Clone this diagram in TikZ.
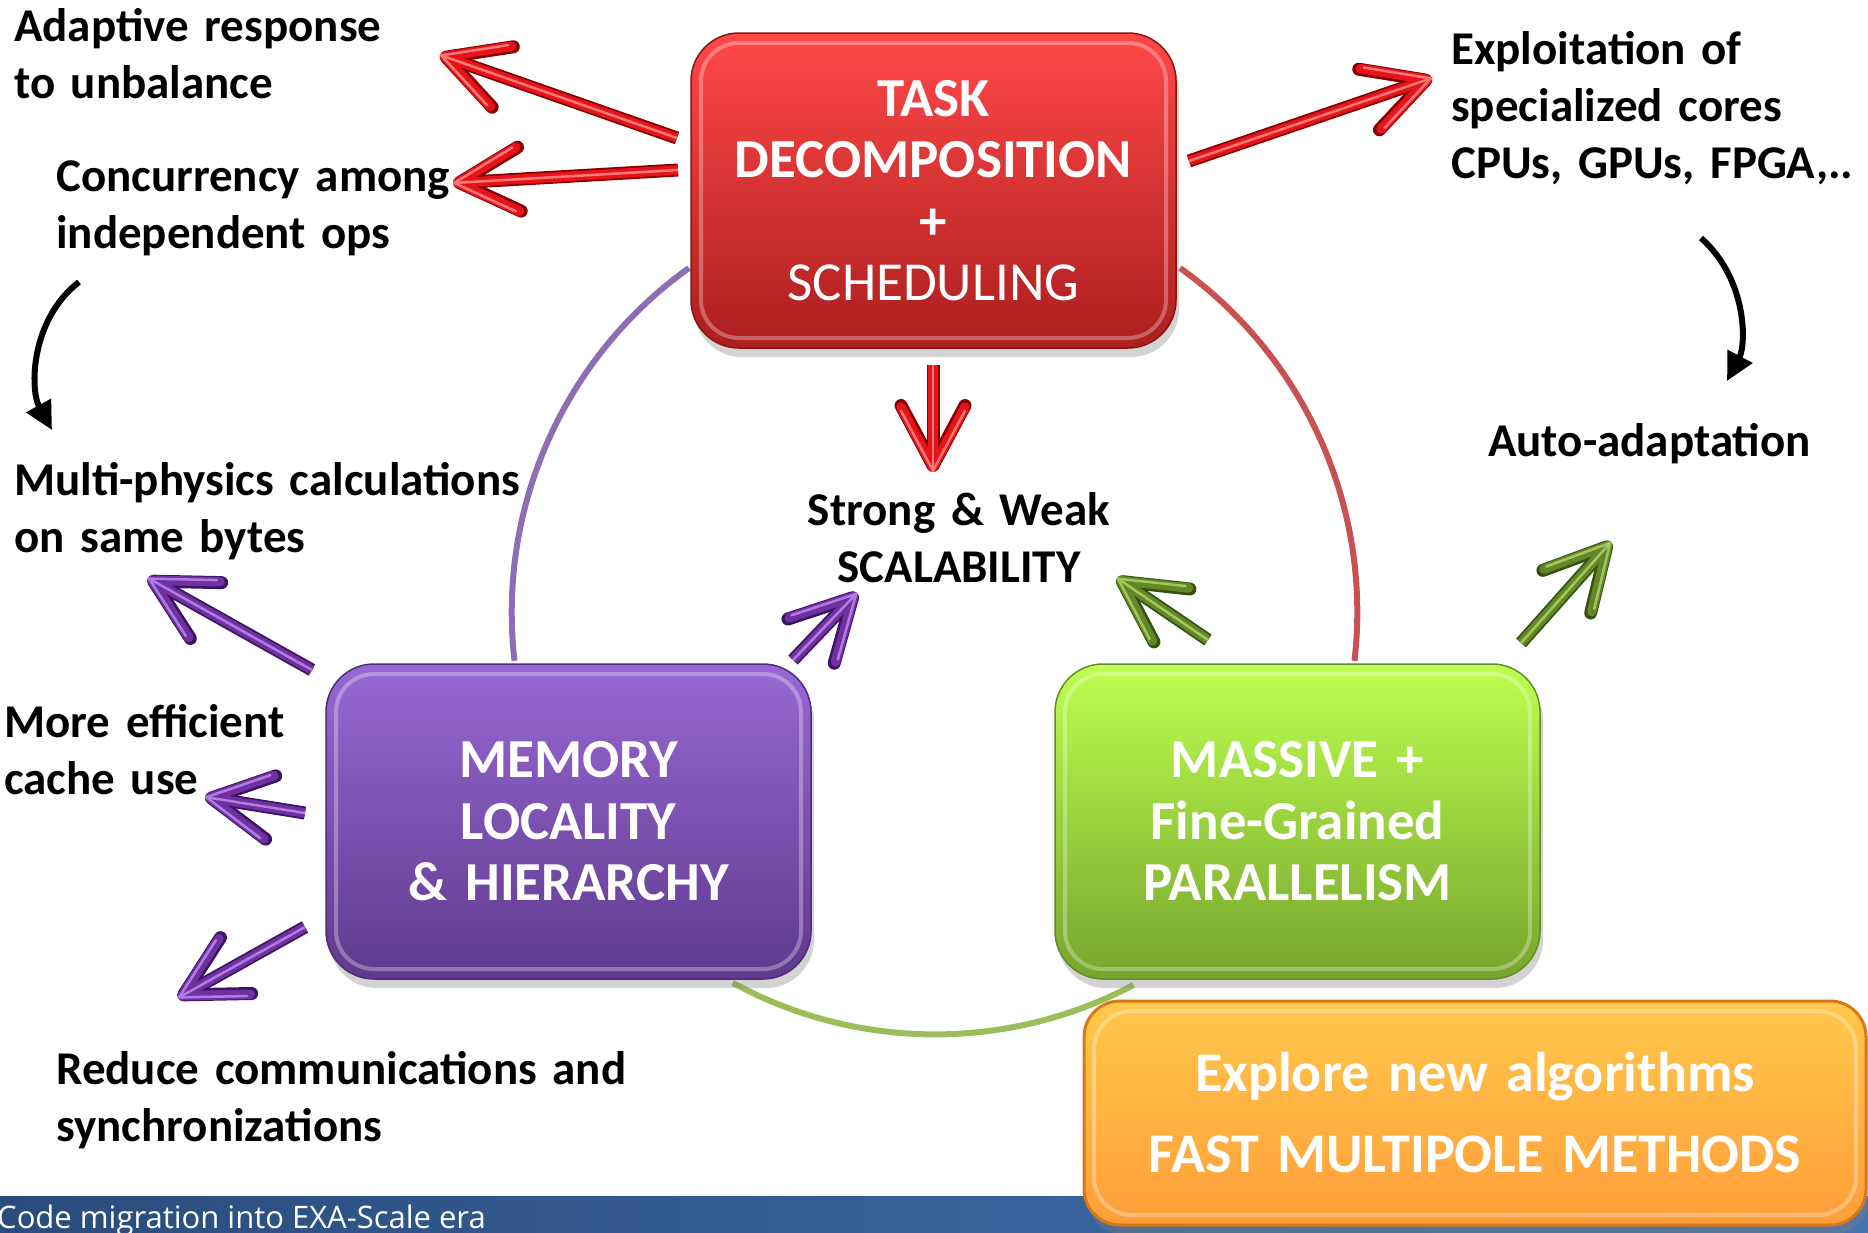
\documentclass[tikz,border=0pt]{standalone}
\usepackage{fontspec}
\setmainfont{Carlito}
\newfontfamily\bandfont{Open Sans}
\usetikzlibrary{arrows.meta,shadows,calc}
\definecolor{redA}{RGB}{230,20,26}
\definecolor{redD}{RGB}{135,0,0}
\definecolor{redL}{RGB}{255,120,120}
\definecolor{purA}{RGB}{112,48,160}
\definecolor{purD}{RGB}{60,18,98}
\definecolor{purL}{RGB}{175,125,225}
\definecolor{grnA}{RGB}{98,134,40}
\definecolor{grnD}{RGB}{54,80,16}
\definecolor{grnL}{RGB}{160,200,90}
\definecolor{arcP}{RGB}{140,110,180}
\definecolor{arcR}{RGB}{200,82,82}
\definecolor{arcG}{RGB}{155,190,90}
\definecolor{bandL}{RGB}{42,76,124}
\definecolor{bandR}{RGB}{68,116,178}
\begin{document}
\begin{tikzpicture}[x=1pt,y=-1pt]
\tikzset{
  fat/.style={line width=9.5pt, -{Straight Barb[length=60pt,width=64pt,round]}},
  redarr/.style={fat, draw=redA, preaction={draw=redD, line width=13pt}, postaction={draw=redL, line width=2.5pt}},
  purarr/.style={fat, draw=purA, preaction={draw=purD, line width=13pt}, postaction={draw=purL, line width=2.5pt}},
  grnarr/.style={fat, draw=grnA, preaction={draw=grnD, line width=13pt}, postaction={draw=grnL, line width=2.5pt}},
  blk/.style={line width=6pt, -{Triangle[length=28pt,width=27pt]}},
  ring/.style={line width=6pt},
  lbl/.style={font=\fontsize{47}{57}\selectfont\bfseries, text width=600pt, align=left, inner sep=0pt, anchor=base west},
  boxstyle/.style={rounded corners=48pt, minimum width=485pt, minimum height=315pt, text width=470pt,
    align=center, inner sep=0pt, text=white, line width=1.5pt,
    font=\fontsize{55}{61.5}\selectfont\bfseries,
    drop shadow={shadow xshift=3pt, shadow yshift=-9pt, opacity=0.35},
    path picture={\draw[white, opacity=0.3, line width=4pt, rounded corners=38pt]
      ($(path picture bounding box.north west)+(10,10)$) rectangle
      ($(path picture bounding box.south east)+(-10,-10)$);}},
}
\useasboundingbox (0,0) rectangle (1868,1232);
% footer band
\fill[left color=bandL, right color=bandR] (0,1196) rectangle (1868,1232);
\node[font=\bandfont\fontsize{31}{31}\selectfont, text=white, anchor=base west, inner sep=0pt] (band) at (-3,1228) {Code migration into EXA-Scale era};
% ring arcs
\coordinate (ctr) at (934.6,612.3);
\coordinate (pS) at (689,268);
\coordinate (rS) at (1180,268);
\coordinate (gS) at (732.7,982.8);
\draw[ring, draw=arcP] (pS) arc[start angle=234.5, end angle=173.4, radius=422.8];
\draw[ring, draw=arcR] (rS) arc[start angle=305.5, end angle=366.6, radius=422.8];
\draw[ring, draw=arcG] (gS) arc[start angle=118.6, end angle=62, radius=422.8];
% boxes
\node[boxstyle, top color={rgb,255:red,255;green,72;blue,72}, bottom color={rgb,255:red,172;green,30;blue,30}, draw={rgb,255:red,140;green,20;blue,20}]
  (task) at (933.5,190.5) {TASK\\DECOMPOSITION\\+\\\mdseries SCHEDULING};
\node[boxstyle, top color={rgb,255:red,152;green,104;blue,212}, bottom color={rgb,255:red,95;green,58;blue,140}, draw={rgb,255:red,80;green,45;blue,120}]
  (mem) at (568.5,821.5) {MEMORY\\LOCALITY\\\& HIERARCHY};
\node[boxstyle, top color={rgb,255:red,190;green,255;blue,80}, bottom color={rgb,255:red,118;green,165;blue,45}, draw={rgb,255:red,100;green,140;blue,40}]
  (par) at (1297.5,821.5) {MASSIVE +\\Fine-Grained\\PARALLELISM};
\node[boxstyle, rounded corners=36pt, minimum width=782pt, minimum height=224pt, text width=760pt,
  line width=3pt, font=\fontsize{56}{81}\selectfont\bfseries,
  top color={rgb,255:red,255;green,200;blue,75}, bottom color={rgb,255:red,255;green,158;blue,58}, draw={rgb,255:red,215;green,120;blue,20}]
  (fmm) at (1475,1113) {Explore new algorithms\\FAST MULTIPOLE METHODS};
% red arrows
\coordinate (a1s) at (677,138); \coordinate (a1e) at (440,55);
\coordinate (a2s) at (678,170); \coordinate (a2e) at (453,183);
\coordinate (a3s) at (1189,161); \coordinate (a3e) at (1432,78);
\coordinate (a4s) at (933,365); \coordinate (a4e) at (933,472);
\draw[redarr] (a1s) -- (a1e);
\draw[redarr] (a2s) -- (a2e);
\draw[redarr] (a3s) -- (a3e);
\draw[redarr] (a4s) -- (a4e);
% purple arrows
\coordinate (a5s) at (312,670); \coordinate (a5e) at (148,578);
\coordinate (a6s) at (793,660); \coordinate (a6e) at (857,593);
\coordinate (a7s) at (305,813); \coordinate (a7e) at (205,797);
\coordinate (a8s) at (305,927); \coordinate (a8e) at (178,998);
\draw[purarr] (a5s) -- (a5e);
\draw[purarr] (a6s) -- (a6e);
\draw[purarr] (a7s) -- (a7e);
\draw[purarr] (a8s) -- (a8e);
% green arrows
\coordinate (a9s) at (1208,640); \coordinate (a9e) at (1117,578);
\coordinate (a10s) at (1521,643); \coordinate (a10e) at (1611,542);
\draw[grnarr] (a9s) -- (a9e);
\draw[grnarr] (a10s) -- (a10e);
% labels
\node[lbl] (adapt) at (14,41) {Adaptive response\\to unbalance};
\node[lbl] (conc) at (56,191) {Concurrency among\\independent ops};
\node[lbl] (multi) at (14,495) {Multi-physics calculations\\on same bytes};
\node[lbl] (cache) at (4,737) {More efficient\\cache use};
\node[lbl] (reduce) at (56,1084) {Reduce communications and\\synchronizations};
\node[lbl, text width=410pt] (exploit) at (1451,64) {Exploitation of\\specialized cores\\CPUs, GPUs, FPGA,..};
\node[lbl, text width=370pt] (auto) at (1488,456) {Auto-adaptation};
\node[lbl, text width=330pt, align=center, anchor=base] (scal) at (959,525) {Strong \& Weak\\SCALABILITY};
% black curved arrows
\coordinate (k1s) at (79,282); \coordinate (k1e) at (52,430);
\coordinate (k2s) at (1701,238); \coordinate (k2e) at (1727,381);
\draw[blk] (k1s) .. controls (30,320) and (30,390) .. (k1e);
\draw[blk] (k2s) .. controls (1748,280) and (1746,345) .. (k2e);
\end{tikzpicture}
\end{document}
